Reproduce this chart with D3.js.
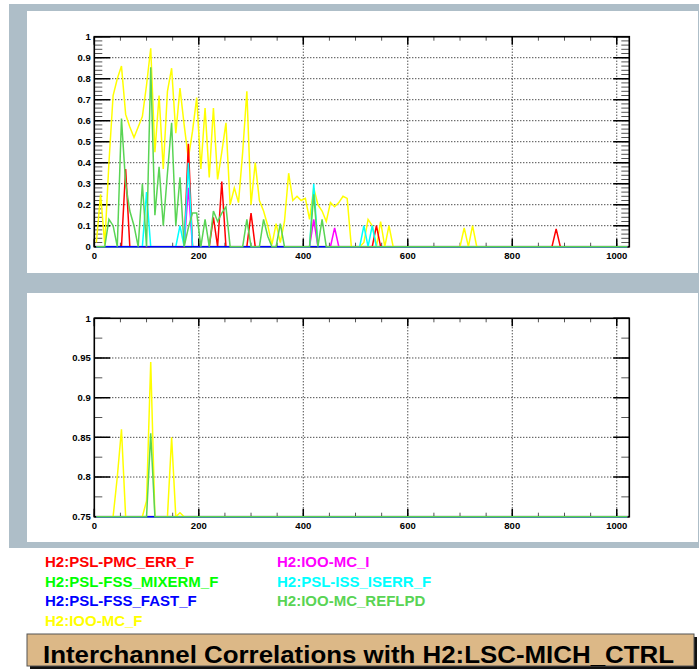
<!DOCTYPE html>
<html>
<head>
<meta charset="utf-8">
<script src="https://cdn.jsdelivr.net/npm/d3@7"></script>
<style>
    html, body { margin: 0; padding: 0; background: #fff; }
    svg { display: block; font-family: "Liberation Sans", Arial, sans-serif; }
</style>
</head>
<body>
<div id="chart"></div>
<script>
// bins of 8 Hz, values drawn at the bin centres
const BIN_WIDTH = 8;
const N_BINS = 128;

const channels = [
    "H2:PSL-PMC_ERR_F",
    "H2:PSL-FSS_MIXERM_F",
    "H2:PSL-FSS_FAST_F",
    "H2:IOO-MC_F",
    "H2:IOO-MC_I",
    "H2:PSL-ISS_ISERR_F",
    "H2:IOO-MC_REFLPD"
];
const channelColors = ["#ff0000", "#00ff00", "#0000ff", "#ffff00", "#ff00ff", "#00ffff", "#59d454"];
// order the traces are stacked in (index into channels)
const drawOrder = [3, 0, 1, 4, 5, 2, 6];

// H2:IOO-MC_F, bins 0..127
const ioomcF = [
    0.02, 0.25, 0.01, 0.40, 0.72, 0.80, 0.86, 0.63, 0.57, 0.52, 0.57, 0.62, 0.77, 0.945, 0.45, 0.72,
    0.37, 0.74, 0.85, 0.54, 0.755, 0.58, 0.42, 0.55, 0.71, 0.37, 0.66, 0.33, 0.66, 0.32, 0.45, 0.59,
    0.20, 0.28, 0.21, 0.45, 0.74, 0.20, 0.40, 0.22, 0.17, 0.10, 0.01, 0.11, 0.02, 0.12, 0.35, 0.22,
    0.24, 0.22, 0.23, 0.13, 0.28, 0.20, 0.17, 0.12, 0.21, 0.19, 0.21, 0.24, 0.23, 0, 0, 0,
    0.02, 0.13, 0.10, 0, 0.12, 0, 0.10, 0, 0, 0, 0, 0, 0, 0, 0, 0,
    0, 0, 0, 0, 0, 0, 0, 0, 0.09, 0, 0.10, 0, 0, 0, 0, 0,
    0, 0, 0, 0, 0, 0, 0, 0, 0, 0, 0, 0, 0, 0, 0, 0,
    0, 0, 0, 0, 0, 0, 0, 0, 0, 0, 0, 0, 0, 0, 0, 0
];

// H2:IOO-MC_REFLPD, bins 0..127
const ioomcReflpd = [
    0, 0, 0, 0.13, 0.10, 0, 0.61, 0.30, 0.17, 0.10, 0, 0.30, 0, 0.855, 0.15, 0.38,
    0.10, 0.35, 0.59, 0.10, 0.33, 0, 0.09, 0.16, 0.16, 0, 0.13, 0, 0.17, 0.12, 0.16, 0.19,
    0, 0, 0, 0, 0.13, 0, 0, 0, 0.13, 0.05, 0, 0, 0.11, 0, 0, 0,
    0, 0, 0, 0, 0.25, 0, 0.13, 0, 0, 0, 0, 0, 0, 0, 0, 0,
    0, 0, 0, 0, 0, 0, 0, 0, 0, 0, 0, 0, 0, 0, 0, 0,
    0, 0, 0, 0, 0, 0, 0, 0, 0, 0, 0, 0, 0, 0, 0, 0,
    0, 0, 0, 0, 0, 0, 0, 0, 0, 0, 0, 0, 0, 0, 0, 0,
    0, 0, 0, 0, 0, 0, 0, 0, 0, 0, 0, 0, 0, 0, 0, 0
];

// the sparse channels: [bin, value], every other bin is zero
const pmcErrPeaks = [[7, 0.37], [22, 0.49], [28, 0.14], [30, 0.31], [37, 0.16], [67, 0.10], [110, 0.085]];
const fssMixermPeaks = [];
const fssFastPeaks = [];
const ioomcIPeaks = [[22, 0.28], [52, 0.13], [57, 0.09]];
const issIserrPeaks = [[12, 0.26], [20, 0.10], [22, 0.40], [52, 0.30], [64, 0.10], [66, 0.10]];

const xMajorTicks = [0, 200, 400, 600, 800, 1000];
const topYLabels = ["0", "0.1", "0.2", "0.3", "0.4", "0.5", "0.6", "0.7", "0.8", "0.9", "1"];
const bottomYLabels = ["0.75", "0.8", "0.85", "0.9", "0.95", "1"];

const titleText = "Interchannel Correlations with H2:LSC-MICH_CTRL";

document.addEventListener('DOMContentLoaded', function() {
    const series = buildSeries();
    const svg = d3.select("#chart").append("svg")
        .attr("width", 699)
        .attr("height", 669);

    drawBackground(svg);

    drawPanel(svg, series, {
        id: "top", top: 36.7, bottom: 246.7,
        yDomain: [0, 1], yLabels: topYLabels, yMinorStep: 0.02
    });
    drawPanel(svg, series, {
        id: "bottom", top: 318.3, bottom: 516.7,
        yDomain: [0.75, 1], yLabels: bottomYLabels, yMinorStep: 0.025
    });

    drawLegend(svg);
    drawTitle(svg);
});

function fromPeaks(peaks) {
    const values = new Array(N_BINS).fill(0);
    peaks.forEach(p => { values[p[0]] = p[1]; });
    return values;
}

function buildSeries() {
    const values = [
        fromPeaks(pmcErrPeaks),
        fromPeaks(fssMixermPeaks),
        fromPeaks(fssFastPeaks),
        ioomcF,
        fromPeaks(ioomcIPeaks),
        fromPeaks(issIserrPeaks),
        ioomcReflpd
    ];
    return drawOrder.map(i => ({
        name: channels[i],
        color: channelColors[i],
        points: values[i].map((v, k) => ({x: k * BIN_WIDTH + BIN_WIDTH / 2, y: v}))
    }));
}

function drawBackground(svg) {
    svg.append("rect")
        .attr("x", 9).attr("y", 4)
        .attr("width", 690).attr("height", 544)
        .attr("fill", "#aebec8");

    svg.append("rect")
        .attr("x", 27).attr("y", 11)
        .attr("width", 671).attr("height", 262)
        .attr("fill", "#fff");

    svg.append("rect")
        .attr("x", 27).attr("y", 293)
        .attr("width", 671).attr("height", 249)
        .attr("fill", "#fff");
}

function drawPanel(svg, series, cfg) {
    const left = 94.3, right = 629.3;

    const x = d3.scaleLinear()
        .domain([0, N_BINS * BIN_WIDTH])
        .range([left, right]);

    const y = d3.scaleLinear()
        .domain(cfg.yDomain)
        .range([cfg.bottom, cfg.top])
        .clamp(true);

    const g = svg.append("g").attr("class", "panel-" + cfg.id);

    const yMajor = cfg.yLabels.map(Number);
    const yMinor = d3.range(cfg.yDomain[0], cfg.yDomain[1] + 1e-9, cfg.yMinorStep);
    const xMinor = d3.range(0, N_BINS * BIN_WIDTH, 50);

    // dotted grid
    const grid = g.append("g")
        .attr("stroke", "#000")
        .attr("stroke-width", 1)
        .attr("stroke-dasharray", "1,2");

    grid.selectAll(".gx")
        .data(xMajorTicks.filter(t => t > 0))
        .enter().append("line")
        .attr("x1", d => x(d)).attr("x2", d => x(d))
        .attr("y1", cfg.top).attr("y2", cfg.bottom);

    grid.selectAll(".gy")
        .data(yMajor.slice(1, -1))
        .enter().append("line")
        .attr("x1", left).attr("x2", right)
        .attr("y1", d => y(d)).attr("y2", d => y(d));

    // ticks
    const ticks = g.append("g");

    ticks.selectAll(".ymin")
        .data(yMinor)
        .enter().append("path")
        .attr("d", d => `M${left},${y(d)}h8M${right},${y(d)}h-8`)
        .attr("stroke", "#555")
        .attr("stroke-width", 1);

    ticks.selectAll(".ymaj")
        .data(yMajor)
        .enter().append("path")
        .attr("d", d => `M${left},${y(d)}h16M${right},${y(d)}h-16`)
        .attr("stroke", "#000")
        .attr("stroke-width", 1.5);

    ticks.selectAll(".xmin")
        .data(xMinor)
        .enter().append("path")
        .attr("d", d => `M${x(d)},${cfg.bottom}v-4M${x(d)},${cfg.top}v4`)
        .attr("stroke", "#555")
        .attr("stroke-width", 1);

    ticks.selectAll(".xmaj")
        .data(xMajorTicks)
        .enter().append("path")
        .attr("d", d => `M${x(d)},${cfg.bottom}v-8M${x(d)},${cfg.top}v8`)
        .attr("stroke", "#000")
        .attr("stroke-width", 1.5);

    // frame
    g.append("rect")
        .attr("x", left).attr("y", cfg.top)
        .attr("width", right - left).attr("height", cfg.bottom - cfg.top)
        .attr("fill", "none")
        .attr("stroke", "#000")
        .attr("stroke-width", 1.6);

    // data lines, on top of the frame so the zero line shows in colour
    g.append("clipPath")
        .attr("id", "clip-" + cfg.id)
        .append("rect")
        .attr("x", left).attr("y", cfg.top - 1)
        .attr("width", right - left).attr("height", cfg.bottom - cfg.top + 2);

    const line = d3.line()
        .x(d => x(d.x))
        .y(d => y(d.y));

    g.append("g")
        .attr("clip-path", "url(#clip-" + cfg.id + ")")
        .selectAll("path")
        .data(series)
        .enter().append("path")
        .attr("d", d => line(d.points))
        .attr("fill", "none")
        .attr("stroke", d => d.color)
        .attr("stroke-width", 1.5);

    // labels
    g.selectAll(".ylab")
        .data(cfg.yLabels)
        .enter().append("text")
        .attr("x", left - 3.5)
        .attr("y", d => y(+d) + 3.3)
        .attr("text-anchor", "end")
        .attr("font-size", 9.5)
        .attr("font-weight", "bold")
        .text(d => d);

    g.selectAll(".xlab")
        .data(xMajorTicks)
        .enter().append("text")
        .attr("x", d => x(d))
        .attr("y", cfg.bottom + 12.6)
        .attr("text-anchor", "middle")
        .attr("font-size", 9.5)
        .attr("font-weight", "bold")
        .text(d => d);
}

function drawLegend(svg) {
    svg.append("g")
        .selectAll("text")
        .data(channels)
        .enter().append("text")
        .attr("x", (d, i) => i < 4 ? 45 : 277)
        .attr("y", (d, i) => 567 + (i % 4) * 19.5)
        .attr("font-size", 15)
        .attr("font-weight", "bold")
        .attr("fill", (d, i) => channelColors[i])
        .text(d => d);
}

function drawTitle(svg) {
    svg.append("rect")
        .attr("x", 30).attr("y", 637)
        .attr("width", 667).attr("height", 32)
        .attr("fill", "#111");

    svg.append("rect")
        .attr("x", 27).attr("y", 634)
        .attr("width", 667).attr("height", 32)
        .attr("fill", "#dcb887")
        .attr("stroke", "#555")
        .attr("stroke-width", 1);

    svg.append("text")
        .attr("x", 43)
        .attr("y", 662.5)
        .attr("font-size", 24)
        .attr("font-weight", "bold")
        .attr("textLength", 631)
        .attr("lengthAdjust", "spacingAndGlyphs")
        .text(titleText);
}
</script>
</body>
</html>
